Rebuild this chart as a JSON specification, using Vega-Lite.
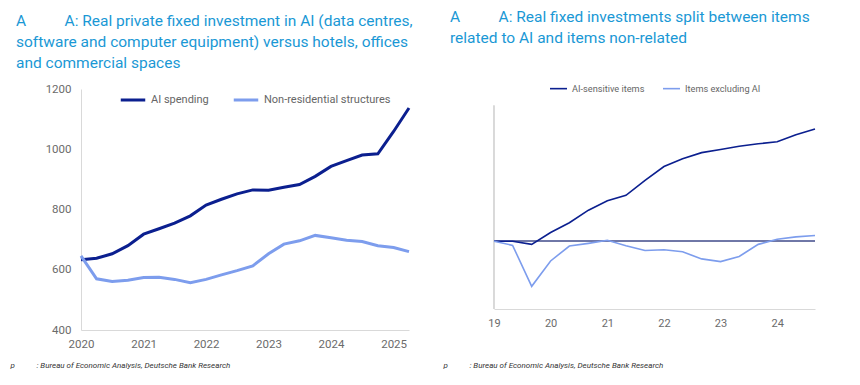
{
  "$schema": "https://vega.github.io/schema/vega-lite/v6.json",
  "padding": {"left": 10, "top": 9, "right": 5, "bottom": 5},
  "spacing": 28,
  "align": "none",
  "resolve": {"scale": {"color": "independent"}, "legend": {"color": "independent"}},
  "config": {
    "view": {"stroke": null},
    "font": "Roboto",
    "axis": {
      "domainColor": "#d9d9d9",
      "ticks": false,
      "grid": false,
      "labelColor": "#6b6b6b",
      "labelFontSize": 11.5,
      "labelFont": "Roboto",
      "labelFlush": false
    },
    "title": {"color": "#1a98d5", "fontSize": 15.5, "fontWeight": "normal", "font": "Roboto", "lineHeight": 21},
    "legend": {"labelColor": "#666666", "symbolType": "stroke", "title": null}
  },
  "datasets": {
    "left": [
      {"date": "2020-01-01", "series": "AI spending", "value": 633},
      {"date": "2020-04-01", "series": "AI spending", "value": 638},
      {"date": "2020-07-01", "series": "AI spending", "value": 653},
      {"date": "2020-10-01", "series": "AI spending", "value": 680},
      {"date": "2021-01-01", "series": "AI spending", "value": 718},
      {"date": "2021-04-01", "series": "AI spending", "value": 736},
      {"date": "2021-07-01", "series": "AI spending", "value": 755},
      {"date": "2021-10-01", "series": "AI spending", "value": 779},
      {"date": "2022-01-01", "series": "AI spending", "value": 815},
      {"date": "2022-04-01", "series": "AI spending", "value": 834},
      {"date": "2022-07-01", "series": "AI spending", "value": 852},
      {"date": "2022-10-01", "series": "AI spending", "value": 865},
      {"date": "2023-01-01", "series": "AI spending", "value": 864},
      {"date": "2023-04-01", "series": "AI spending", "value": 874},
      {"date": "2023-07-01", "series": "AI spending", "value": 883},
      {"date": "2023-10-01", "series": "AI spending", "value": 910},
      {"date": "2024-01-01", "series": "AI spending", "value": 943},
      {"date": "2024-04-01", "series": "AI spending", "value": 962},
      {"date": "2024-07-01", "series": "AI spending", "value": 981},
      {"date": "2024-10-01", "series": "AI spending", "value": 985},
      {"date": "2025-01-01", "series": "AI spending", "value": 1059},
      {"date": "2025-04-01", "series": "AI spending", "value": 1137},
      {"date": "2020-01-01", "series": "Non-residential structures", "value": 646},
      {"date": "2020-04-01", "series": "Non-residential structures", "value": 570},
      {"date": "2020-07-01", "series": "Non-residential structures", "value": 561},
      {"date": "2020-10-01", "series": "Non-residential structures", "value": 565},
      {"date": "2021-01-01", "series": "Non-residential structures", "value": 574},
      {"date": "2021-04-01", "series": "Non-residential structures", "value": 575},
      {"date": "2021-07-01", "series": "Non-residential structures", "value": 568},
      {"date": "2021-10-01", "series": "Non-residential structures", "value": 557},
      {"date": "2022-01-01", "series": "Non-residential structures", "value": 568},
      {"date": "2022-04-01", "series": "Non-residential structures", "value": 583},
      {"date": "2022-07-01", "series": "Non-residential structures", "value": 597},
      {"date": "2022-10-01", "series": "Non-residential structures", "value": 613},
      {"date": "2023-01-01", "series": "Non-residential structures", "value": 653},
      {"date": "2023-04-01", "series": "Non-residential structures", "value": 685},
      {"date": "2023-07-01", "series": "Non-residential structures", "value": 696},
      {"date": "2023-10-01", "series": "Non-residential structures", "value": 714},
      {"date": "2024-01-01", "series": "Non-residential structures", "value": 706},
      {"date": "2024-04-01", "series": "Non-residential structures", "value": 698},
      {"date": "2024-07-01", "series": "Non-residential structures", "value": 694},
      {"date": "2024-10-01", "series": "Non-residential structures", "value": 680},
      {"date": "2025-01-01", "series": "Non-residential structures", "value": 674},
      {"date": "2025-04-01", "series": "Non-residential structures", "value": 660}
    ],
    "right": [
      {"date": "2019-01-01", "series": "AI-sensitive items", "value": 0},
      {"date": "2019-05-01", "series": "AI-sensitive items", "value": 0},
      {"date": "2019-09-01", "series": "AI-sensitive items", "value": -0.9},
      {"date": "2020-01-01", "series": "AI-sensitive items", "value": 2.6},
      {"date": "2020-05-01", "series": "AI-sensitive items", "value": 5.5},
      {"date": "2020-09-01", "series": "AI-sensitive items", "value": 9.2},
      {"date": "2021-01-01", "series": "AI-sensitive items", "value": 12.0},
      {"date": "2021-05-01", "series": "AI-sensitive items", "value": 13.6},
      {"date": "2021-09-01", "series": "AI-sensitive items", "value": 18.0},
      {"date": "2022-01-01", "series": "AI-sensitive items", "value": 22.1},
      {"date": "2022-05-01", "series": "AI-sensitive items", "value": 24.4},
      {"date": "2022-09-01", "series": "AI-sensitive items", "value": 26.2},
      {"date": "2023-01-01", "series": "AI-sensitive items", "value": 27.1},
      {"date": "2023-05-01", "series": "AI-sensitive items", "value": 28.1},
      {"date": "2023-09-01", "series": "AI-sensitive items", "value": 28.8},
      {"date": "2024-01-01", "series": "AI-sensitive items", "value": 29.4},
      {"date": "2024-05-01", "series": "AI-sensitive items", "value": 31.5},
      {"date": "2024-09-01", "series": "AI-sensitive items", "value": 33.2},
      {"date": "2019-01-01", "series": "Items excluding AI", "value": 0},
      {"date": "2019-05-01", "series": "Items excluding AI", "value": -1.2},
      {"date": "2019-09-01", "series": "Items excluding AI", "value": -13.3},
      {"date": "2020-01-01", "series": "Items excluding AI", "value": -5.8},
      {"date": "2020-05-01", "series": "Items excluding AI", "value": -1.4},
      {"date": "2020-09-01", "series": "Items excluding AI", "value": -0.6},
      {"date": "2021-01-01", "series": "Items excluding AI", "value": 0.3},
      {"date": "2021-05-01", "series": "Items excluding AI", "value": -1.3},
      {"date": "2021-09-01", "series": "Items excluding AI", "value": -2.7},
      {"date": "2022-01-01", "series": "Items excluding AI", "value": -2.5},
      {"date": "2022-05-01", "series": "Items excluding AI", "value": -3.1},
      {"date": "2022-09-01", "series": "Items excluding AI", "value": -5.2},
      {"date": "2023-01-01", "series": "Items excluding AI", "value": -6.0},
      {"date": "2023-05-01", "series": "Items excluding AI", "value": -4.5},
      {"date": "2023-09-01", "series": "Items excluding AI", "value": -0.9},
      {"date": "2024-01-01", "series": "Items excluding AI", "value": 0.6},
      {"date": "2024-05-01", "series": "Items excluding AI", "value": 1.3},
      {"date": "2024-09-01", "series": "Items excluding AI", "value": 1.7}
    ]
  },
  "hconcat": [
    {
      "width": 328,
      "height": 241,
      "title": {
        "text": [
          "A\u00a0\u00a0\u00a0\u00a0\u00a0\u00a0\u00a0\u00a0\u00a0\u00a0A: Real private fixed investment in AI (data centres,",
          "software and computer equipment) versus hotels, offices",
          "and commercial spaces"
        ],
        "anchor": "start",
        "frame": "bounds",
        "offset": 12,
        "dx": 6
      },
      "data": {"name": "left"},
      "mark": {"type": "line", "strokeWidth": 3},
      "encoding": {
        "x": {
          "field": "date",
          "type": "temporal",
          "axis": {
            "format": "%Y",
            "tickCount": {"interval": "year", "step": 1},
            "labelPadding": 8,
            "labelFlush": false,
            "title": "p\u00a0\u00a0\u00a0\u00a0\u00a0\u00a0\u00a0\u00a0\u00a0\u00a0\u00a0: Bureau of Economic Analysis, Deutsche Bank Research",
            "titleFontStyle": "italic",
            "titleFontWeight": "normal",
            "titleFontSize": 8,
            "titleColor": "#333333",
            "titleAnchor": "start",
            "titleAlign": "left",
            "titleBaseline": "middle",
            "titleX": -71,
            "titleY": 35
          }
        },
        "y": {
          "field": "value",
          "type": "quantitative",
          "scale": {"domain": [400, 1200]},
          "axis": {"values": [400, 600, 800, 1000, 1200], "format": "d", "title": null, "labelPadding": 10}
        },
        "color": {
          "field": "series",
          "type": "nominal",
          "scale": {"domain": ["AI spending", "Non-residential structures"], "range": ["#0b1f8f", "#7d9ded"]},
          "legend": {
            "orient": "none",
            "legendX": 38,
            "legendY": -3,
            "direction": "horizontal",
            "labelFontSize": 11,
            "symbolStrokeWidth": 3,
            "symbolSize": 600,
            "columnPadding": 18
          }
        }
      }
    },
    {
      "width": 321,
      "height": 220,
      "title": {
        "text": [
          "A\u00a0\u00a0\u00a0\u00a0\u00a0\u00a0\u00a0\u00a0\u00a0\u00a0A: Real fixed investments split between items",
          "related to AI and items non-related"
        ],
        "anchor": "start",
        "frame": "bounds",
        "offset": 33,
        "dx": 7
      },
      "data": {"name": "right"},
      "layer": [
        {
          "mark": {"type": "rule", "color": "#d9d9d9", "strokeWidth": 1},
          "encoding": {
            "x": {"datum": {"year": 2019, "month": 1, "date": 1}, "type": "temporal"},
            "y": {"datum": -20},
            "y2": {"datum": 40}
          }
        },
        {
          "mark": {"type": "rule", "color": "#6f77a6", "strokeWidth": 1.3},
          "encoding": {"y": {"datum": 0}}
        },
        {
          "mark": {"type": "line", "strokeWidth": 1.6},
          "encoding": {
            "x": {
              "field": "date",
              "type": "temporal",
              "axis": {
                "format": "%y",
                "tickCount": {"interval": "year", "step": 1},
                "labelPadding": 8,
                "labelFontSize": 11,
                "labelFlush": false,
                "title": "p\u00a0\u00a0\u00a0\u00a0\u00a0\u00a0\u00a0\u00a0\u00a0\u00a0\u00a0: Bureau of Economic Analysis, Deutsche Bank Research",
                "titleFontStyle": "italic",
                "titleFontWeight": "normal",
                "titleFontSize": 8,
                "titleColor": "#333333",
                "titleAnchor": "start",
                "titleAlign": "left",
                "titleBaseline": "middle",
                "titleX": -51,
                "titleY": 56
              }
            },
            "y": {
              "field": "value",
              "type": "quantitative",
              "scale": {"domain": [-20, 44.7]},
              "axis": {"labels": false, "domain": false, "title": null}
            },
            "color": {
              "field": "series",
              "type": "nominal",
              "scale": {"domain": ["AI-sensitive items", "Items excluding AI"], "range": ["#0b1f8f", "#7d9ded"]},
              "legend": {
                "orient": "none",
                "legendX": 55,
                "legendY": -10,
                "direction": "horizontal",
                "labelFontSize": 9.2,
                "symbolStrokeWidth": 1.6,
                "symbolSize": 289,
                "columnPadding": 14
              }
            }
          }
        }
      ]
    }
  ]
}
